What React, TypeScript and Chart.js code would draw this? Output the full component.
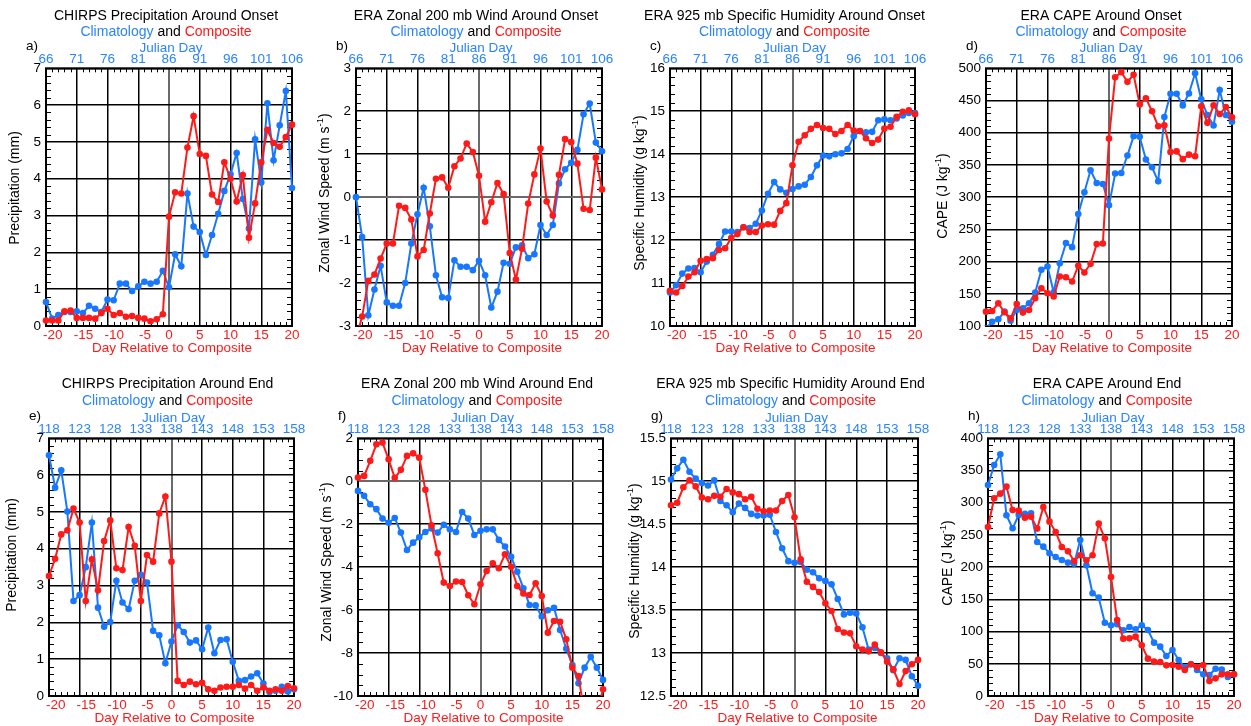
import { useEffect, useRef } from "react";
import { Chart, registerables } from "chart.js";

Chart.register(...registerables);

// ---- shared axes -------------------------------------------------------
const DAYS = [
  -20, -19, -18, -17, -16, -15, -14, -13, -12, -11, -10, -9, -8, -7, -6, -5, -4, -3, -2, -1,
  0, 1, 2, 3, 4, 5, 6, 7, 8, 9, 10, 11, 12, 13, 14, 15, 16, 17, 18, 19, 20,
];
const DAY_TICKS = [-20, -15, -10, -5, 0, 5, 10, 15, 20];
const ONSET_JULIAN_TICKS = [66, 71, 76, 81, 86, 91, 96, 101, 106];
const END_JULIAN_TICKS = [118, 123, 128, 133, 138, 143, 148, 153, 158];
const ONSET_JULIAN_DAY0 = 86;
const END_JULIAN_DAY0 = 138;

// ---- y-axis ticks ------------------------------------------------------
const PRECIP_TICKS = [0, 1, 2, 3, 4, 5, 6, 7];
const WIND_ONSET_TICKS = [-3, -2, -1, 0, 1, 2, 3];
const SHUM_ONSET_TICKS = [10, 11, 12, 13, 14, 15, 16];
const CAPE_ONSET_TICKS = [100, 150, 200, 250, 300, 350, 400, 450, 500];
const WIND_END_TICKS = [-10, -8, -6, -4, -2, 0, 2];
const SHUM_END_TICKS = [12.5, 13, 13.5, 14, 14.5, 15, 15.5];
const CAPE_END_TICKS = [0, 50, 100, 150, 200, 250, 300, 350, 400];

// ---- series: around onset ----------------------------------------------
const precipOnsetClim = [
  0.65, 0.2, 0.3, 0.38, 0.38, 0.4, 0.35, 0.55, 0.47, 0.38, 0.72, 0.7, 1.15, 1.15, 0.95, 1.08, 1.2, 1.15, 1.2, 1.5,
  1.05, 1.95, 1.62, 3.6, 2.7, 2.55, 1.93, 2.47, 3.05, 3.67, 4.12, 4.7, 3.45, 2.65, 5.07, 3.9, 6.05, 4.5, 5.45, 6.38, 3.75,
];
const precipOnsetComp = [
  0.15, 0.15, 0.15, 0.4, 0.42, 0.22, 0.22, 0.22, 0.2, 0.35, 0.47, 0.3, 0.35, 0.25, 0.27, 0.22, 0.2, 0.13, 0.18, 0.32,
  2.97, 3.63, 3.6, 4.85, 5.7, 4.67, 4.62, 3.57, 3.37, 4.45, 4.0, 3.38, 4.1, 2.4, 3.33, 4.45, 5.33, 4.97, 4.87, 5.13, 5.47,
];
const windOnsetClim = [
  0.0, -0.93, -2.75, -2.15, -1.6, -2.45, -2.53, -2.53, -2.0, -1.08, -0.4, 0.22, -0.68, -1.82, -2.33, -2.35, -1.47, -1.62, -1.62, -1.7,
  -1.48, -1.82, -2.57, -2.2, -1.53, -1.55, -1.17, -1.12, -1.42, -1.33, -0.65, -0.88, -0.65, 0.32, 0.65, 0.8, 1.1, 1.93, 2.18, 1.27, 1.07,
];
const windOnsetComp = [
  -3.3, -2.78, -1.95, -1.8, -1.43, -1.08, -1.08, -0.2, -0.25, -0.52, -1.38, -1.23, -0.38, 0.43, 0.46, 0.22, 0.72, 0.9, 1.25, 1.05,
  0.5, -0.57, -0.12, 0.33, 0.07, -1.3, -1.92, -1.2, -0.15, 0.53, 1.13, -0.1, -0.43, 0.52, 1.35, 1.28, 0.78, -0.27, -0.3, 0.92, 0.18,
];
const shumOnsetClim = [
  10.78, 10.95, 11.22, 11.34, 11.35, 11.25, 11.5, 11.66, 11.91, 12.2, 12.2, 12.19, 12.3, 12.28, 12.38, 12.69, 13.08, 13.35, 13.18, 13.1,
  13.19, 13.25, 13.29, 13.47, 13.74, 13.97, 13.95, 14.0, 14.02, 14.12, 14.42, 14.54, 14.51, 14.52, 14.79, 14.81, 14.79, 14.83, 14.9, 14.96, 14.96,
];
const shumOnsetComp = [
  10.82, 10.78, 10.93, 11.15, 11.25, 11.52, 11.56, 11.58, 11.77, 11.81, 12.05, 12.14, 12.3, 12.19, 12.19, 12.34, 12.37, 12.36, 12.68, 12.86,
  13.74, 14.29, 14.44, 14.59, 14.68, 14.61, 14.59, 14.47, 14.54, 14.68, 14.55, 14.54, 14.37, 14.26, 14.34, 14.6, 14.64, 14.87, 14.99, 15.02, 14.93,
];
const capeOnsetClim = [
  96, 106.7, 110.4, 122.3, 108.3, 124.9, 127.5, 135.3, 151.9, 187.2, 192.3, 152.4, 197.5, 228.7, 222.4, 273.8, 307.5, 341.8, 322, 320.5,
  287.3, 336.6, 337.6, 364.6, 394.7, 393.6, 358.4, 346.4, 324.6, 424.3, 460.6, 460.6, 442.4, 461, 492.2, 451.8, 427.4, 411.3, 466.3, 427.4, 417,
];
const capeOnsetComp = [
  122.3, 123.3, 135.3, 121.3, 111.9, 134.2, 120.8, 124.9, 143, 158.6, 150.8, 145.7, 176.8, 175.7, 169, 193.4, 183, 196.5, 227.1, 228.1,
  391, 486, 494, 479, 490, 443.8, 453.6, 433.4, 410, 411.5, 370, 371, 359, 366, 363.6, 441, 415.3, 442.7, 429, 440, 424,
];

// ---- series: around end ------------------------------------------------
const precipEndClim = [
  6.54, 5.66, 6.13, 5.01, 2.58, 2.74, 3.5, 4.71, 2.4, 1.88, 2.01, 3.13, 2.54, 2.36, 3.13, 3.29, 3.08, 1.77, 1.65, 0.89,
  1.48, 1.92, 1.74, 1.45, 1.51, 1.27, 1.86, 1.16, 1.52, 1.54, 0.93, 0.41, 0.43, 0.53, 0.62, 0.34, 0.11, 0.14, 0.25, 0.12, 0.18,
];
const precipEndComp = [
  3.26, 3.73, 4.39, 4.5, 5.09, 4.71, 2.58, 3.71, 2.87, 4.21, 4.77, 3.47, 3.42, 4.59, 4.08, 2.58, 3.83, 3.65, 4.96, 5.42,
  3.65, 0.41, 0.3, 0.39, 0.32, 0.36, 0.18, 0.14, 0.23, 0.25, 0.25, 0.3, 0.2, 0.3, 0.14, 0.23, 0.14, 0.18, 0.14, 0.27, 0.21,
];
const windEndClim = [
  -0.45, -0.68, -1.07, -1.3, -1.74, -1.93, -1.71, -2.39, -3.2, -2.86, -2.61, -2.36, -2.2, -2.39, -2.03, -2.24, -2.36, -1.43, -1.74, -2.5,
  -2.31, -2.24, -2.24, -2.73, -3.04, -3.52, -4.22, -4.98, -5.76, -5.78, -6.3, -6.01, -5.89, -6.93, -7.8, -8.56, -9.41, -8.68, -8.18, -8.68, -9.25,
];
const windEndComp = [
  0.17, 0.25, 0.95, 1.72, 1.8, 1.02, 0.16, 0.53, 1.18, 1.3, 1.1, -0.4, -2.05, -3.35, -4.72, -4.88, -4.67, -4.69, -5.31, -5.73,
  -4.8, -4.18, -3.82, -4.05, -3.4, -3.98, -4.88, -5.23, -5.3, -4.75, -5.34, -7.05, -6.51, -6.54, -7.36, -8.68, -9.07, -10.9, -11.5, -10.9, -9.69,
];
const shumEndClim = [
  15.02, 15.15, 15.25, 15.11, 15.03, 14.98, 14.95, 15.01, 14.77, 14.72, 14.64, 14.74, 14.69, 14.62, 14.6, 14.6, 14.61, 14.41, 14.22, 14.07,
  14.05, 14.06, 13.97, 13.94, 13.87, 13.84, 13.8, 13.63, 13.45, 13.47, 13.46, 13.3, 13.04, 13.06, 13.0, 12.94, 12.8, 12.94, 12.92, 12.73, 12.62,
];
const shumEndComp = [
  14.72, 14.75, 14.93, 15.01, 14.94, 14.81, 14.79, 14.83, 14.82, 14.91, 14.87, 14.85, 14.79, 14.82, 14.68, 14.65, 14.66, 14.66, 14.77, 14.84,
  14.58, 14.09, 13.83, 13.77, 13.71, 13.58, 13.49, 13.28, 13.24, 13.23, 13.08, 13.04, 13.02, 13.1, 13.01, 12.9, 12.81, 12.64, 12.79, 12.87, 12.92,
];
const capeEndClim = [
  327.6, 358.6, 375.2, 280.5, 260.3, 281, 283, 283.6, 239, 231.8, 221.5, 215.8, 211.1, 207, 205.4, 242.2, 202.8, 159.4, 152.7, 113.8,
  109.7, 111.3, 101.9, 107.1, 103.5, 109.7, 102.5, 82.8, 76.6, 62.1, 71.4, 55.9, 44, 49.2, 40.4, 33.6, 32.6, 42.4, 40.9, 29.5, 33.6,
];
const capeEndComp = [
  262.4, 306.9, 314.1, 325, 288.7, 287.7, 276.8, 278.4, 259.8, 293.4, 270.6, 254.6, 231.3, 224.6, 209.6, 218.4, 210.6, 218.4, 267.5, 244.8,
  184.7, 118, 89, 89.5, 92.1, 78.7, 58, 53.3, 52.8, 47.6, 48.1, 45.5, 40.4, 49.2, 45, 48.1, 23.3, 27.4, 33.6, 33.6, 33.6,
];

// ---- styling -----------------------------------------------------------
const FONT = '"Liberation Sans", Arial, Helvetica, sans-serif';
const BLUE = "#1877ff";
const BLUE_TEXT = "#2a84ff";
const RED = "#ff1a1a";
const ZERO_GRAY = "#6a6a6a";
const TICK_FONT = 13.5;

const ROW_TOP = [0, 370];
const TITLE_Y = [
  [16, 32.5],
  [14.5, 31],
];
const CANVAS_H = 356;
const PLOT_TOP = 68.3;
const PLOT_BOTTOM = 326;
const LEFT_PAD = 60;
const RIGHT_PAD = 26;

type TextPart = { t: string; sup?: boolean };

type PanelSpec = {
  letter: string;
  title: string;
  yTitle: TextPart[];
  yTicks: number[];
  yMinor: number;
  zeroY: boolean;
  julianTicks: number[];
  julian0: number;
  clim: number[];
  comp: number[];
  row: number;
  left: number;
  right: number;
  titleDx: number;
  yTitleDx: number;
  yTitleY: number;
};

const PANELS: PanelSpec[] = [
  {
    letter: "a)", title: "CHIRPS Precipitation Around Onset", yTitle: [{ t: "Precipitation (mm)" }],
    yTicks: PRECIP_TICKS, yMinor: 5, zeroY: false, julianTicks: ONSET_JULIAN_TICKS, julian0: ONSET_JULIAN_DAY0,
    clim: precipOnsetClim, comp: precipOnsetComp, row: 0, left: 46, right: 292, titleDx: -3, yTitleDx: 31, yTitleY: 188,
  },
  {
    letter: "b)", title: "ERA Zonal 200 mb Wind Around Onset",
    yTitle: [{ t: "Zonal Wind Speed (m s" }, { t: "-1", sup: true }, { t: ")" }],
    yTicks: WIND_ONSET_TICKS, yMinor: 5, zeroY: true, julianTicks: ONSET_JULIAN_TICKS, julian0: ONSET_JULIAN_DAY0,
    clim: windOnsetClim, comp: windOnsetComp, row: 0, left: 356, right: 602, titleDx: -3, yTitleDx: 31, yTitleY: 193,
  },
  {
    letter: "c)", title: "ERA 925 mb Specific Humidity Around Onset",
    yTitle: [{ t: "Specific Humidity (g kg" }, { t: "-1", sup: true }, { t: ")" }],
    yTicks: SHUM_ONSET_TICKS, yMinor: 5, zeroY: false, julianTicks: ONSET_JULIAN_TICKS, julian0: ONSET_JULIAN_DAY0,
    clim: shumOnsetClim, comp: shumOnsetComp, row: 0, left: 670, right: 915, titleDx: -8, yTitleDx: 30, yTitleY: 193,
  },
  {
    letter: "d)", title: "ERA CAPE Around Onset",
    yTitle: [{ t: "CAPE (J kg" }, { t: "-1", sup: true }, { t: ")" }],
    yTicks: CAPE_ONSET_TICKS, yMinor: 5, zeroY: false, julianTicks: ONSET_JULIAN_TICKS, julian0: ONSET_JULIAN_DAY0,
    clim: capeOnsetClim, comp: capeOnsetComp, row: 0, left: 986, right: 1232, titleDx: -8, yTitleDx: 43, yTitleY: 196,
  },
  {
    letter: "e)", title: "CHIRPS Precipitation Around End", yTitle: [{ t: "Precipitation (mm)" }],
    yTicks: PRECIP_TICKS, yMinor: 5, zeroY: false, julianTicks: END_JULIAN_TICKS, julian0: END_JULIAN_DAY0,
    clim: precipEndClim, comp: precipEndComp, row: 1, left: 49, right: 294, titleDx: -4, yTitleDx: 37, yTitleY: 185,
  },
  {
    letter: "f)", title: "ERA Zonal 200 mb Wind Around End",
    yTitle: [{ t: "Zonal Wind Speed (m s" }, { t: "-1", sup: true }, { t: ")" }],
    yTicks: WIND_END_TICKS, yMinor: 4, zeroY: true, julianTicks: END_JULIAN_TICKS, julian0: END_JULIAN_DAY0,
    clim: windEndClim, comp: windEndComp, row: 1, left: 358, right: 603, titleDx: -3.5, yTitleDx: 31, yTitleY: 192,
  },
  {
    letter: "g)", title: "ERA 925 mb Specific Humidity Around End",
    yTitle: [{ t: "Specific Humidity (g kg" }, { t: "-1", sup: true }, { t: ")" }],
    yTicks: SHUM_END_TICKS, yMinor: 5, zeroY: false, julianTicks: END_JULIAN_TICKS, julian0: END_JULIAN_DAY0,
    clim: shumEndClim, comp: shumEndComp, row: 1, left: 671, right: 918, titleDx: -4, yTitleDx: 36, yTitleY: 191,
  },
  {
    letter: "h)", title: "ERA CAPE Around End",
    yTitle: [{ t: "CAPE (J kg" }, { t: "-1", sup: true }, { t: ")" }],
    yTicks: CAPE_END_TICKS, yMinor: 5, zeroY: false, julianTicks: END_JULIAN_TICKS, julian0: END_JULIAN_DAY0,
    clim: capeEndClim, comp: capeEndComp, row: 1, left: 988, right: 1234, titleDx: -4, yTitleDx: 40, yTitleY: 193,
  },
];

// Frame and inward minor ticks, drawn beneath the data lines.
function framePlugin(p: PanelSpec) {
  return {
    id: "panelFrame",
    beforeDatasetsDraw(chart: any) {
      const { ctx, chartArea: a, scales } = chart;
      const xs = scales.x;
      const ys = scales.y;
      ctx.save();
      ctx.strokeStyle = "#000";
      ctx.lineWidth = 1;
      ctx.beginPath();
      for (let i = 0; i < DAY_TICKS.length - 1; i++) {
        const step = (DAY_TICKS[i + 1] - DAY_TICKS[i]) / 5;
        for (let k = 1; k < 5; k++) {
          const px = Math.round(xs.getPixelForValue(DAY_TICKS[i] + k * step)) + 0.5;
          ctx.moveTo(px, a.top);
          ctx.lineTo(px, a.top + 4);
          ctx.moveTo(px, a.bottom);
          ctx.lineTo(px, a.bottom - 4);
        }
      }
      for (let i = 0; i < p.yTicks.length - 1; i++) {
        const step = (p.yTicks[i + 1] - p.yTicks[i]) / p.yMinor;
        for (let k = 1; k < p.yMinor; k++) {
          const py = Math.round(ys.getPixelForValue(p.yTicks[i] + k * step)) + 0.5;
          ctx.moveTo(a.left, py);
          ctx.lineTo(a.left + 5, py);
          ctx.moveTo(a.right, py);
          ctx.lineTo(a.right - 5, py);
        }
      }
      ctx.stroke();
      ctx.lineWidth = 2;
      ctx.strokeRect(a.left, a.top, a.right - a.left, a.bottom - a.top);
      ctx.restore();
    },
  };
}

// Titles, panel letter and axis titles.
function textPlugin(p: PanelSpec) {
  return {
    id: "panelText",
    afterDraw(chart: any) {
      const { ctx, chartArea: a } = chart;
      const cx = (a.left + a.right) / 2;
      const [ty1, ty2] = TITLE_Y[p.row];
      ctx.save();
      ctx.textBaseline = "middle";

      ctx.font = `14px ${FONT}`;
      ctx.textAlign = "center";
      ctx.fillStyle = "#000";
      ctx.fillText(p.title, cx + p.titleDx, ty1);

      const legendParts: [string, string][] = [
        ["Climatology", BLUE_TEXT],
        [" and ", "#000"],
        ["Composite", RED],
      ];
      const total = legendParts.reduce((s, [t]) => s + ctx.measureText(t).width, 0);
      let lx = cx + p.titleDx - total / 2;
      ctx.textAlign = "left";
      for (const [t, c] of legendParts) {
        ctx.fillStyle = c;
        ctx.fillText(t, lx, ty2);
        lx += ctx.measureText(t).width;
      }

      ctx.font = `13.5px ${FONT}`;
      ctx.fillStyle = "#000";
      ctx.fillText(p.letter, a.left - 20, 46.5);

      ctx.textAlign = "center";
      ctx.fillStyle = BLUE_TEXT;
      ctx.fillText("Julian Day", cx + 2, 48);

      ctx.fillStyle = RED;
      ctx.fillText("Day Relative to Composite", cx + 3, 348);

      // rotated y-axis title with superscript units
      ctx.translate(a.left - p.yTitleDx, p.yTitleY);
      ctx.rotate(-Math.PI / 2);
      ctx.textAlign = "left";
      ctx.fillStyle = "#000";
      const fontFor = (tp: TextPart) => (tp.sup ? `9.5px ${FONT}` : `14px ${FONT}`);
      let tw = 0;
      for (const tp of p.yTitle) {
        ctx.font = fontFor(tp);
        tw += ctx.measureText(tp.t).width;
      }
      let tx = -tw / 2;
      for (const tp of p.yTitle) {
        ctx.font = fontFor(tp);
        ctx.fillText(tp.t, tx, tp.sup ? -5 : 0);
        tx += ctx.measureText(tp.t).width;
      }
      ctx.restore();
    },
  };
}

function buildConfig(p: PanelSpec, canvasW: number): any {
  const plotW = p.right - p.left;
  const series = (vals: number[]) => DAYS.map((d, i) => ({ x: d, y: vals[i] }));
  const lineStyle = (color: string) => ({
    borderColor: color,
    backgroundColor: color,
    pointBackgroundColor: color,
    pointBorderWidth: 0,
    pointRadius: 3.3,
    borderWidth: 2,
    tension: 0,
    clip: { left: 6, right: 6, top: 0, bottom: 0 },
    xAxisID: "x",
    yAxisID: "y",
  });
  const tickFont = { family: FONT, size: TICK_FONT };
  return {
    type: "line",
    data: {
      datasets: [
        { label: "Composite", data: series(p.comp), ...lineStyle(RED) },
        { label: "Climatology", data: series(p.clim), ...lineStyle(BLUE) },
      ],
    },
    options: {
      animation: false,
      responsive: false,
      maintainAspectRatio: false,
      devicePixelRatio: 1,
      events: [],
      layout: { padding: { left: 0, top: 0, bottom: 0, right: canvasW - LEFT_PAD - plotW } },
      plugins: { legend: { display: false }, tooltip: { enabled: false }, title: { display: false } },
      scales: {
        x: {
          type: "linear",
          position: "bottom",
          min: DAY_TICKS[0],
          max: DAY_TICKS[DAY_TICKS.length - 1],
          afterBuildTicks: (s: any) => {
            s.ticks = DAY_TICKS.map((v) => ({ value: v }));
          },
          afterFit: (s: any) => {
            s.height = CANVAS_H - PLOT_BOTTOM;
          },
          grid: {
            drawTicks: false,
            color: (c: any) => (c.tick && c.tick.value === 0 ? ZERO_GRAY : "#000"),
            lineWidth: (c: any) => (c.tick && c.tick.value === 0 ? 2 : 1.5),
          },
          border: { display: false },
          ticks: {
            color: RED,
            font: tickFont,
            padding: 1,
            maxRotation: 0,
            autoSkip: false,
            callback: (v: number) => (v < 0 ? "\u2002\u2002" + String(v) : String(v)),
          },
        },
        xTop: {
          type: "linear",
          position: "top",
          min: p.julian0 + DAY_TICKS[0],
          max: p.julian0 + DAY_TICKS[DAY_TICKS.length - 1],
          afterBuildTicks: (s: any) => {
            s.ticks = p.julianTicks.map((v) => ({ value: v }));
          },
          afterFit: (s: any) => {
            s.height = PLOT_TOP;
          },
          grid: { display: false, drawTicks: false },
          border: { display: false },
          ticks: {
            color: BLUE_TEXT,
            font: tickFont,
            padding: 0.5,
            maxRotation: 0,
            autoSkip: false,
            callback: (v: number) => String(v),
          },
        },
        y: {
          type: "linear",
          position: "left",
          min: p.yTicks[0],
          max: p.yTicks[p.yTicks.length - 1],
          afterBuildTicks: (s: any) => {
            s.ticks = p.yTicks.map((v) => ({ value: v }));
          },
          afterFit: (s: any) => {
            s.width = LEFT_PAD;
          },
          grid: {
            drawTicks: false,
            color: (c: any) => (p.zeroY && c.tick && c.tick.value === 0 ? ZERO_GRAY : "#000"),
            lineWidth: (c: any) => (p.zeroY && c.tick && c.tick.value === 0 ? 2 : 1.5),
          },
          border: { display: false },
          ticks: {
            color: "#000",
            font: tickFont,
            padding: 5,
            autoSkip: false,
            callback: (v: number) => String(v),
          },
        },
      },
    },
    plugins: [framePlugin(p), textPlugin(p)],
  };
}

function Panel({ p }: { p: PanelSpec }) {
  const ref = useRef<HTMLCanvasElement>(null);
  const canvasW = LEFT_PAD + (p.right - p.left) + RIGHT_PAD;
  useEffect(() => {
    if (!ref.current) return;
    const chart = new Chart(ref.current, buildConfig(p, canvasW));
    return () => chart.destroy();
  }, [p, canvasW]);
  return (
    <canvas
      ref={ref}
      width={canvasW}
      height={CANVAS_H}
      style={{
        position: "absolute",
        left: p.left - LEFT_PAD,
        top: ROW_TOP[p.row],
        width: canvasW,
        height: CANVAS_H,
      }}
    />
  );
}

export default function App() {
  return (
    <div
      style={{
        position: "fixed",
        left: 0,
        top: 0,
        width: 1251,
        height: 726,
        overflow: "hidden",
        background: "#fff",
      }}
    >
      {PANELS.map((p) => (
        <Panel key={p.letter} p={p} />
      ))}
    </div>
  );
}
